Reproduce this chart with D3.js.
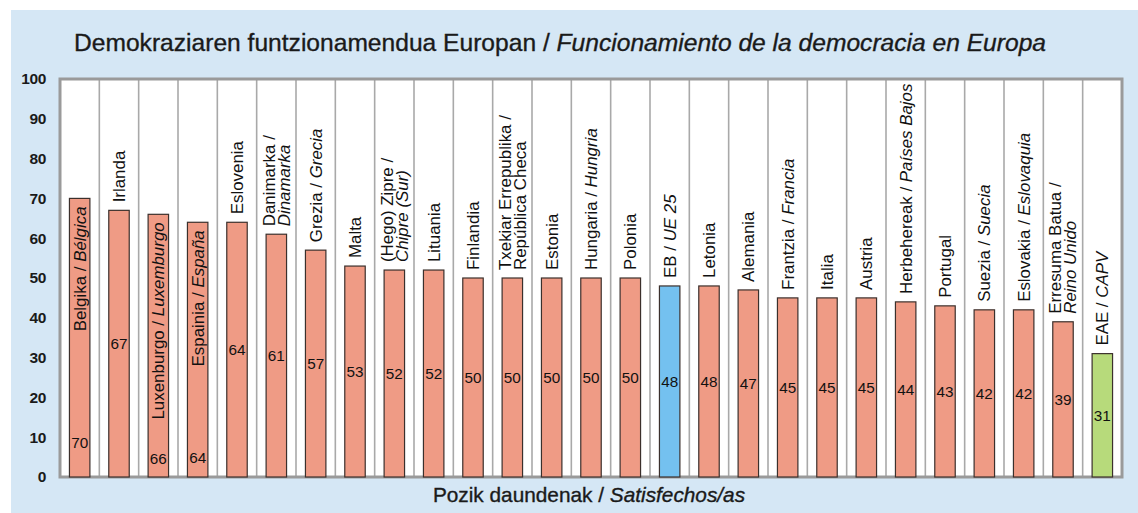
<!DOCTYPE html>
<html>
<head>
<meta charset="utf-8">
<script src="https://cdn.jsdelivr.net/npm/d3@7"></script>
<style>
  body { margin: 0; background: #fff; }
  svg { display: block; font-family: "Liberation Sans", Arial, sans-serif; }
</style>
</head>
<body>
<script>
// "|" breaks a label onto a second line, _text_ is set in italics
const categories = [
  "Belgika / _Bélgica_", "Irlanda", "Luxenburgo / _Luxemburgo_", "Espainia / _España_",
  "Eslovenia", "Danimarka /|_Dinamarka_", "Grezia / _Grecia_", "Malta",
  "(Hego) Zipre /|_Chipre (Sur)_", "Lituania", "Finlandia", "Txekiar Errepublika /|República Checa",
  "Estonia", "Hungaria / _Hungria_", "Polonia", "EB / _UE 25_", "Letonia", "Alemania",
  "Frantzia / _Francia_", "Italia", "Austria", "Herbehereak / _Países Bajos_", "Portugal",
  "Suezia / _Suecia_", "Eslovakia / _Eslovaquia_", "Erresuma Batua /|_Reino Unido_", "EAE / _CAPV_"
];
const values = [70, 67, 66, 64, 64, 61, 57, 53, 52, 52, 50, 50, 50, 50, 50, 48, 48, 47, 45, 45, 45, 44, 43, 42, 42, 39, 31];
const euAverage = "EB / _UE 25_";
const basqueCountry = "EAE / _CAPV_";
const yTicks = [0, 10, 20, 30, 40, 50, 60, 70, 80, 90, 100];
const titleEu = "Demokraziaren funtzionamendua Europan / ";
const titleEs = "Funcionamiento de la democracia en Europa";
const axisEu = "Pozik daundenak / ";
const axisEs = "Satisfechos/as";

// labels that the original draws inside their bar, with the value near the base
const insideLabels = { "Belgika / _Bélgica_": 35, "Luxenburgo / _Luxemburgo_": 19, "Espainia / _España_": 20 };

const width = 1138, height = 513;
const margin = { top: 79, right: 16, bottom: 36, left: 60 };

const data = categories.map((c, i) => ({ label: c, value: values[i] }));

const svg = d3.select('body').append('svg')
  .attr('width', width)
  .attr('height', height);

svg.append('rect')
  .attr('x', 11).attr('y', 10)
  .attr('width', width - 11).attr('height', height - 10)
  .attr('fill', '#d5e7f5');

const x = d3.scaleBand()
  .domain(categories)
  .range([margin.left, width - margin.right]);

const y = d3.scaleLinear()
  .domain([0, 100])
  .range([height - margin.bottom, margin.top]);

const color = d3.scaleOrdinal()
  .domain(['country', 'eu', 'capv'])
  .range(['#ef9b85', '#74c1f0', '#b7da7b']);

const kind = d => d.label === euAverage ? 'eu' : d.label === basqueCountry ? 'capv' : 'country';

// plot area
svg.append('rect')
  .attr('x', margin.left).attr('y', margin.top)
  .attr('width', width - margin.left - margin.right)
  .attr('height', y(0) - y(100))
  .attr('fill', '#fff');

svg.append('g')
  .selectAll('line')
  .data(d3.range(1, categories.length))
  .enter().append('line')
    .attr('x1', i => margin.left + i * x.step())
    .attr('x2', i => margin.left + i * x.step())
    .attr('y1', y(100))
    .attr('y2', y(0))
    .attr('stroke', '#a9a9a9')
    .attr('stroke-width', 1.6);

svg.append('rect')
  .attr('x', margin.left).attr('y', margin.top)
  .attr('width', width - margin.left - margin.right)
  .attr('height', y(0) - y(100))
  .attr('fill', 'none')
  .attr('stroke', '#9a9a9a')
  .attr('stroke-width', 3);

// y axis
const yAxis = svg.append('g')
  .attr('transform', `translate(${margin.left},0)`)
  .call(d3.axisLeft(y).tickValues(yTicks).tickSize(0).tickPadding(14));
yAxis.select('.domain').remove();
yAxis.selectAll('text')
  .style('font-family', '"Liberation Sans", Arial, sans-serif')
  .style('font-size', '15.5px')
  .style('font-weight', 'bold')
  .style('letter-spacing', '-0.4px')
  .attr('fill', '#1a1a1a');

// bars
const barWidth = x.bandwidth() * 0.52;
svg.append('g')
  .selectAll('rect')
  .data(data)
  .enter().append('rect')
    .attr('x', d => x(d.label) + (x.bandwidth() - barWidth) / 2)
    .attr('y', d => y(d.value))
    .attr('width', barWidth)
    .attr('height', d => y(0) - y(d.value))
    .attr('fill', d => color(kind(d)))
    .attr('stroke', '#3b302c')
    .attr('stroke-width', 1.2);

// value labels
svg.append('g')
  .selectAll('text')
  .data(data)
  .enter().append('text')
    .attr('x', d => x(d.label) + x.bandwidth() / 2)
    .attr('y', d => insideLabels[d.label] ? y(0) - insideLabels[d.label] : (y(0) + y(d.value)) / 2)
    .attr('text-anchor', 'middle')
    .attr('dominant-baseline', 'central')
    .style('font-size', '15.3px')
    .attr('fill', '#111')
    .text(d => d.value);

// rotated category labels
const lineHeight = 15;
const labels = svg.append('g')
  .selectAll('text')
  .data(data)
  .enter().append('text')
    .attr('transform', d => {
      const cx = x(d.label) + x.bandwidth() / 2;
      const cy = insideLabels[d.label] ? y(d.value) + 8 : y(d.value) - 8;
      return `translate(${cx},${cy}) rotate(-90)`;
    })
    .attr('text-anchor', d => insideLabels[d.label] ? 'end' : 'start')
    .style('font-size', '16.9px')
    .attr('fill', '#111');

labels.each(function(d) {
  const lines = d.label.split('|');
  const t = d3.select(this);
  lines.forEach((line, k) => {
    const off = (k - (lines.length - 1) / 2) * lineHeight;
    line.split(/(_[^_]+_)/).filter(s => s.length).forEach((part, j) => {
      const italic = part.startsWith('_');
      const span = t.append('tspan')
        .text(italic ? part.slice(1, -1) : part)
        .style('font-style', italic ? 'italic' : 'normal');
      if (j === 0) span.attr('x', 0).attr('y', off).attr('dy', '0.35em');
    });
  });
});

// title
const title = svg.append('text')
  .attr('x', 560)
  .attr('y', 51)
  .attr('text-anchor', 'middle')
  .style('font-size', '24.6px')
  .attr('fill', '#1a1a1a')
  .attr('stroke', '#1a1a1a')
  .attr('stroke-width', 0.35);
title.append('tspan').text(titleEu);
title.append('tspan').style('font-style', 'italic').text(titleEs);

// x axis title
const axisTitle = svg.append('text')
  .attr('x', 589)
  .attr('y', 502)
  .attr('text-anchor', 'middle')
  .style('font-size', '20.8px')
  .attr('fill', '#1a1a1a')
  .attr('stroke', '#1a1a1a')
  .attr('stroke-width', 0.35);
axisTitle.append('tspan').text(axisEu);
axisTitle.append('tspan').style('font-style', 'italic').text(axisEs);
</script>
</body>
</html>
